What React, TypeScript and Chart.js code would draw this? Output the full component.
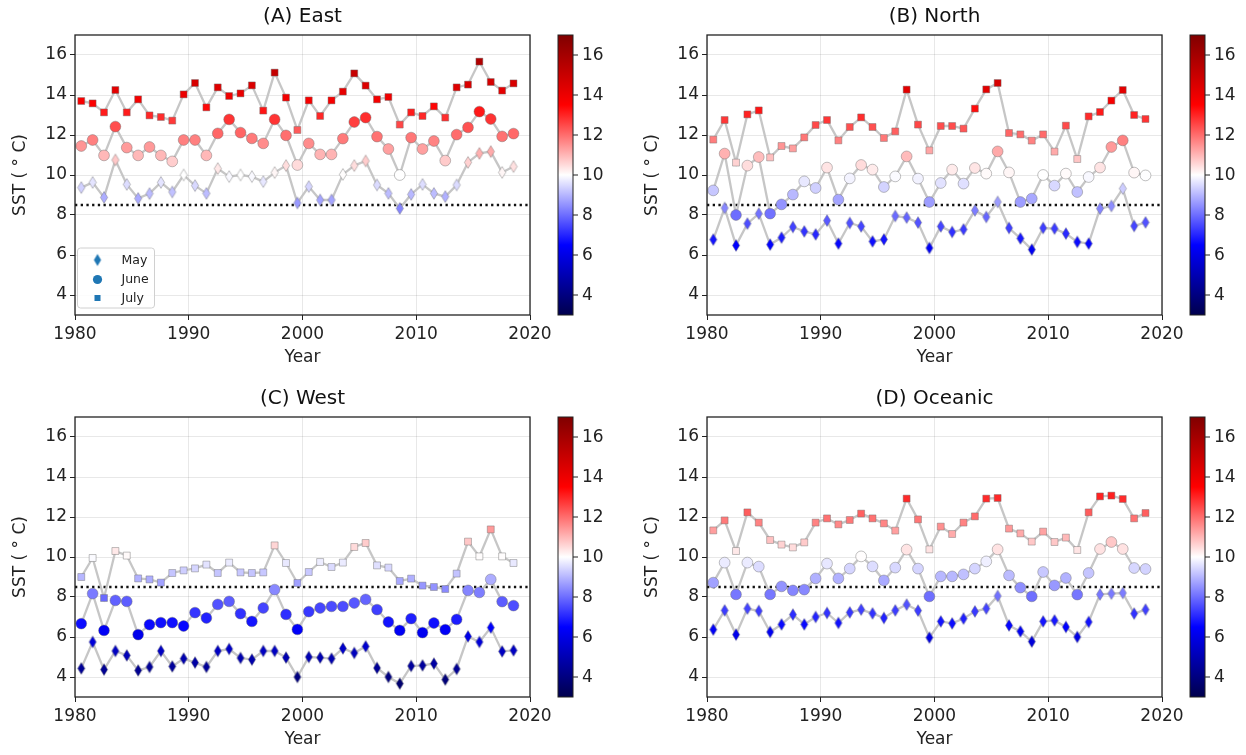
import React, { useEffect, useRef } from "react";
import { Chart, registerables } from "chart.js";

Chart.register(...registerables);

// ---------------- data ----------------
const YEARS = [
  1980, 1981, 1982, 1983, 1984, 1985, 1986, 1987, 1988, 1989,
  1990, 1991, 1992, 1993, 1994, 1995, 1996, 1997, 1998, 1999,
  2000, 2001, 2002, 2003, 2004, 2005, 2006, 2007, 2008, 2009,
  2010, 2011, 2012, 2013, 2014, 2015, 2016, 2017, 2018,
];
const X_OFFSET = 0.55; // points sit mid-season within each year

const X_TICKS = [1980, 1990, 2000, 2010, 2020];
const Y_TICKS = [4, 6, 8, 10, 12, 14, 16];
const THRESHOLD = 8.5;
const VMIN = 3;
const VMAX = 17;

const A_MAY = [9.37, 9.63, 8.88, 10.75, 9.53, 8.83, 9.07, 9.63, 9.15, 10.0, 9.47, 9.08, 10.32, 9.92, 10.0, 9.92, 9.67, 10.12, 10.47, 8.6, 9.42, 8.75, 8.75, 10.03, 10.47, 10.7, 9.5, 9.08, 8.33, 9.03, 9.53, 9.08, 8.92, 9.5, 10.63, 11.08, 11.17, 10.13, 10.42];
const A_JUNE = [11.45, 11.75, 10.98, 12.42, 11.37, 10.98, 11.4, 10.98, 10.68, 11.75, 11.75, 10.98, 12.08, 12.78, 12.12, 11.83, 11.58, 12.78, 11.98, 10.5, 11.58, 11.03, 11.03, 11.82, 12.65, 12.87, 11.92, 11.3, 10.0, 11.87, 11.3, 11.7, 10.72, 12.02, 12.38, 13.17, 12.8, 11.93, 12.07];
const A_JULY = [13.7, 13.58, 13.13, 14.25, 13.13, 13.78, 12.98, 12.9, 12.72, 14.03, 14.6, 13.38, 14.38, 13.95, 14.08, 14.48, 13.22, 15.12, 13.87, 12.25, 13.73, 12.95, 13.73, 14.17, 15.08, 14.47, 13.78, 13.9, 12.52, 13.13, 12.95, 13.43, 12.87, 14.38, 14.52, 15.67, 14.65, 14.22, 14.58];

const B_MAY = [6.77, 8.35, 6.48, 7.57, 8.07, 6.52, 6.87, 7.4, 7.18, 7.03, 7.72, 6.57, 7.6, 7.43, 6.68, 6.78, 7.95, 7.87, 7.62, 6.35, 7.43, 7.15, 7.28, 8.23, 7.9, 8.65, 7.35, 6.83, 6.27, 7.35, 7.32, 7.07, 6.65, 6.57, 8.32, 8.45, 9.32, 7.45, 7.63];
const B_JUNE = [9.23, 11.07, 8.0, 10.47, 10.9, 8.07, 8.53, 9.02, 9.68, 9.35, 10.37, 8.77, 9.83, 10.5, 10.27, 9.4, 9.93, 10.93, 9.82, 8.65, 9.6, 10.27, 9.57, 10.35, 10.07, 11.18, 10.13, 8.65, 8.82, 10.0, 9.47, 10.07, 9.15, 9.9, 10.37, 11.4, 11.73, 10.12, 9.98];
const B_JULY = [11.77, 12.75, 10.62, 13.03, 13.23, 10.88, 11.45, 11.33, 11.88, 12.5, 12.75, 11.73, 12.4, 12.88, 12.4, 11.85, 12.18, 14.27, 12.52, 11.23, 12.45, 12.45, 12.32, 13.32, 14.28, 14.6, 12.1, 12.03, 11.72, 12.03, 11.17, 12.47, 10.8, 12.93, 13.15, 13.72, 14.25, 13.0, 12.8];

const C_MAY = [4.43, 5.75, 4.37, 5.3, 5.08, 4.33, 4.5, 5.3, 4.53, 4.92, 4.72, 4.5, 5.3, 5.4, 4.95, 4.87, 5.3, 5.3, 4.97, 4.0, 5.0, 4.97, 4.92, 5.43, 5.2, 5.53, 4.45, 4.0, 3.67, 4.55, 4.58, 4.67, 3.87, 4.4, 6.03, 5.75, 6.47, 5.28, 5.33];
const C_JUNE = [6.67, 8.17, 6.33, 7.83, 7.78, 6.12, 6.62, 6.72, 6.72, 6.55, 7.22, 6.95, 7.63, 7.78, 7.17, 6.78, 7.45, 8.37, 7.13, 6.38, 7.27, 7.45, 7.53, 7.53, 7.7, 7.88, 7.37, 6.75, 6.33, 6.92, 6.22, 6.7, 6.37, 6.88, 8.33, 8.23, 8.88, 7.77, 7.57];
const C_JULY = [9.0, 9.95, 7.95, 10.3, 10.07, 8.93, 8.88, 8.72, 9.2, 9.33, 9.43, 9.62, 9.2, 9.72, 9.23, 9.2, 9.23, 10.58, 9.7, 8.7, 9.25, 9.75, 9.5, 9.72, 10.5, 10.7, 9.58, 9.47, 8.8, 8.92, 8.57, 8.5, 8.4, 9.17, 10.77, 10.03, 11.38, 10.03, 9.7];

const D_MAY = [6.37, 7.33, 6.12, 7.42, 7.3, 6.25, 6.63, 7.12, 6.63, 7.0, 7.2, 6.7, 7.23, 7.37, 7.18, 6.95, 7.33, 7.62, 7.32, 5.97, 6.78, 6.68, 6.92, 7.28, 7.42, 8.05, 6.58, 6.28, 5.77, 6.78, 6.83, 6.5, 6.0, 6.75, 8.13, 8.17, 8.2, 7.17, 7.37];
const D_JUNE = [8.72, 9.72, 8.13, 9.72, 9.52, 8.13, 8.53, 8.33, 8.37, 8.93, 9.67, 8.93, 9.42, 10.03, 9.53, 8.83, 9.47, 10.37, 9.42, 8.03, 9.03, 9.03, 9.13, 9.42, 9.78, 10.38, 9.08, 8.47, 8.03, 9.25, 8.58, 8.95, 8.12, 9.2, 10.4, 10.75, 10.4, 9.45, 9.4];
const D_JULY = [11.33, 11.83, 10.3, 12.23, 11.72, 10.85, 10.62, 10.48, 10.73, 11.72, 11.93, 11.63, 11.85, 12.17, 11.93, 11.68, 11.32, 12.92, 11.88, 10.38, 11.52, 11.15, 11.72, 12.03, 12.92, 12.95, 11.42, 11.18, 10.77, 11.27, 10.75, 10.97, 10.35, 12.23, 13.03, 13.07, 12.9, 11.93, 12.2];

const LEGEND_LABELS = ["May", "June", "July"];
const Y_TITLE = "SST ( \u00B0 C)";
const X_TITLE = "Year";

// ---------------- styles ----------------
const FONT = "'DejaVu Sans', 'Liberation Sans', sans-serif";
const TEXT = "#222222";
const LINE_COLOR = "rgba(195,195,195,0.95)";
const EDGE = "rgba(110,110,110,0.55)";
const LEGEND_BLUE = "#1f77b4";
const W = 614;
const H = 373;

const CMAP: number[][] = [
  [0, 0, 0, 77],
  [0.25, 0, 0, 255],
  [0.5, 255, 255, 255],
  [0.75, 255, 0, 0],
  [1, 128, 0, 0],
];

function seismic(v: number): string {
  const t = Math.min(1, Math.max(0, (v - VMIN) / (VMAX - VMIN)));
  for (let k = 0; k < CMAP.length - 1; k++) {
    const a = CMAP[k];
    const b = CMAP[k + 1];
    if (t <= b[0]) {
      const f = (t - a[0]) / (b[0] - a[0]);
      const r = Math.round(a[1] + (b[1] - a[1]) * f);
      const g = Math.round(a[2] + (b[2] - a[2]) * f);
      const bl = Math.round(a[3] + (b[3] - a[3]) * f);
      return `rgb(${r},${g},${bl})`;
    }
  }
  return "rgb(128,0,0)";
}

const diamondCache = new Map<string, HTMLCanvasElement>();
function diamond(color: string, edge = true): HTMLCanvasElement {
  const key = color + (edge ? "e" : "");
  const hit = diamondCache.get(key);
  if (hit) return hit;
  const c = document.createElement("canvas");
  c.width = 10;
  c.height = 15;
  const g = c.getContext("2d")!;
  g.beginPath();
  g.moveTo(5, 1.6);
  g.lineTo(8.6, 7.5);
  g.lineTo(5, 13.4);
  g.lineTo(1.4, 7.5);
  g.closePath();
  g.fillStyle = color;
  g.fill();
  if (edge) {
    g.strokeStyle = EDGE;
    g.lineWidth = 0.8;
    g.stroke();
  }
  diamondCache.set(key, c);
  return c;
}

type Panel = {
  title: string;
  may: number[];
  june: number[];
  july: number[];
  legend: boolean;
  left: number;
  top: number;
};

const PANELS: Panel[] = [
  { title: "(A) East", may: A_MAY, june: A_JUNE, july: A_JULY, legend: true, left: 0, top: 0 },
  { title: "(B) North", may: B_MAY, june: B_JUNE, july: B_JULY, legend: false, left: 632, top: 0 },
  { title: "(C) West", may: C_MAY, june: C_JUNE, july: C_JULY, legend: false, left: 0, top: 382 },
  { title: "(D) Oceanic", may: D_MAY, june: D_JUNE, july: D_JULY, legend: false, left: 632, top: 382 },
];

function pts(vals: number[]) {
  return YEARS.map((yr, i) => ({ x: yr + X_OFFSET, y: vals[i] }));
}

function lineDs(vals: number[]) {
  return {
    data: pts(vals),
    showLine: true,
    borderColor: LINE_COLOR,
    borderWidth: 2.3,
    pointRadius: 0,
    tension: 0,
    order: 10,
  };
}

function pointDs(vals: number[], kind: string, order: number) {
  const base: any = {
    data: pts(vals),
    showLine: false,
    borderColor: EDGE,
    borderWidth: 0.8,
    order,
    backgroundColor: (c: any) => (c.raw ? seismic(c.raw.y) : "#888"),
  };
  if (kind === "diamond") {
    base.pointStyle = (c: any) => (c.raw ? diamond(seismic(c.raw.y)) : "rectRot");
    base.pointRadius = 6;
  } else if (kind === "circle") {
    base.pointStyle = "circle";
    base.pointRadius = 5.4;
  } else {
    base.pointStyle = "rect";
    base.pointRadius = 4.9;
  }
  return base;
}

function makePlugin(panel: Panel) {
  return {
    id: "decor",
    beforeDatasetsDraw(chart: any) {
      const { ctx, chartArea: ca, scales } = chart;
      const y = scales.y.getPixelForValue(THRESHOLD);
      ctx.save();
      ctx.strokeStyle = "#111";
      ctx.lineWidth = 2.3;
      ctx.setLineDash([2.3, 3.4]);
      ctx.beginPath();
      ctx.moveTo(ca.left, y);
      ctx.lineTo(ca.right, y);
      ctx.stroke();
      ctx.restore();
    },
    afterDraw(chart: any) {
      const { ctx, chartArea: ca, scales } = chart;
      ctx.save();
      // spines
      ctx.strokeStyle = "#222";
      ctx.lineWidth = 1.3;
      ctx.strokeRect(ca.left, ca.top, ca.right - ca.left, ca.bottom - ca.top);

      // titles
      ctx.fillStyle = "#111";
      ctx.textAlign = "center";
      ctx.textBaseline = "middle";
      ctx.font = `20px ${FONT}`;
      const cx = (ca.left + ca.right) / 2;
      ctx.fillText(panel.title, cx, 17);
      ctx.font = `17px ${FONT}`;
      ctx.fillStyle = TEXT;
      ctx.fillText(X_TITLE, cx, 358);
      ctx.save();
      ctx.translate(21, (ca.top + ca.bottom) / 2);
      ctx.rotate(-Math.PI / 2);
      ctx.fillText(Y_TITLE, 0, 0);
      ctx.restore();

      // colorbar
      const x0 = ca.right + 28;
      const cw = 15;
      const grad = ctx.createLinearGradient(0, ca.bottom, 0, ca.top);
      CMAP.forEach((s) => grad.addColorStop(s[0], `rgb(${s[1]},${s[2]},${s[3]})`));
      ctx.fillStyle = grad;
      ctx.fillRect(x0, ca.top, cw, ca.bottom - ca.top);
      ctx.strokeStyle = "#222";
      ctx.lineWidth = 1;
      ctx.strokeRect(x0, ca.top, cw, ca.bottom - ca.top);
      ctx.textAlign = "left";
      ctx.textBaseline = "middle";
      ctx.font = `17px ${FONT}`;
      ctx.fillStyle = TEXT;
      Y_TICKS.forEach((v) => {
        const yy = scales.y.getPixelForValue(v);
        ctx.beginPath();
        ctx.moveTo(x0 + cw, yy);
        ctx.lineTo(x0 + cw + 5, yy);
        ctx.stroke();
        ctx.fillText(String(v), x0 + cw + 9, yy + 1);
      });

      // legend
      if (panel.legend) {
        const bx = ca.left + 2.5;
        const by = ca.bottom - 67;
        const bw = 77;
        const bh = 60;
        ctx.beginPath();
        ctx.roundRect(bx, by, bw, bh, 3);
        ctx.fillStyle = "rgba(255,255,255,0.85)";
        ctx.fill();
        ctx.strokeStyle = "#d0d0d0";
        ctx.lineWidth = 1;
        ctx.stroke();
        const mx = bx + 20;
        const tx = bx + 44;
        const rows = [by + 12, by + 31.5, by + 50];
        ctx.fillStyle = LEGEND_BLUE;
        const d = diamond(LEGEND_BLUE, false);
        ctx.drawImage(d, mx - 5, rows[0] - 7.5);
        ctx.beginPath();
        ctx.arc(mx, rows[1], 4.6, 0, Math.PI * 2);
        ctx.fill();
        ctx.fillRect(mx - 3, rows[2] - 3, 6, 6);
        ctx.fillStyle = TEXT;
        ctx.font = `12.5px ${FONT}`;
        LEGEND_LABELS.forEach((lab, i) => ctx.fillText(lab, tx, rows[i] + 0.5));
      }
      ctx.restore();
    },
  };
}

function PanelChart({ panel }: { panel: Panel }) {
  const ref = useRef<HTMLCanvasElement>(null);
  useEffect(() => {
    const canvas = ref.current;
    if (!canvas) return;
    const tickFont = { family: FONT, size: 17 };
    const chart = new Chart(canvas, {
      type: "scatter",
      data: {
        datasets: [
          lineDs(panel.may) as any,
          lineDs(panel.june) as any,
          lineDs(panel.july) as any,
          pointDs(panel.may, "diamond", 3),
          pointDs(panel.june, "circle", 2),
          pointDs(panel.july, "square", 1),
        ],
      },
      options: {
        animation: false,
        responsive: false,
        devicePixelRatio: 1,
        events: [],
        layout: { padding: { left: 0, top: 35, right: W - 530, bottom: 0 } },
        plugins: {
          legend: { display: false },
          title: { display: false },
          tooltip: { enabled: false },
        },
        scales: {
          x: {
            type: "linear",
            min: 1980,
            max: 2020,
            afterBuildTicks: (s: any) => {
              s.ticks = X_TICKS.map((v) => ({ value: v }));
            },
            afterFit: (s: any) => {
              s.height = 58;
            },
            ticks: {
              callback: (v: any) => String(v),
              font: tickFont,
              color: TEXT,
              padding: 4,
              maxRotation: 0,
              autoSkip: false,
            },
            grid: {
              color: "rgba(0,0,0,0.09)",
              tickColor: "#222",
              tickLength: 5,
              lineWidth: 1,
            },
            border: { display: false },
          },
          y: {
            type: "linear",
            min: VMIN,
            max: VMAX,
            afterBuildTicks: (s: any) => {
              s.ticks = Y_TICKS.map((v) => ({ value: v }));
            },
            afterFit: (s: any) => {
              s.width = 75;
            },
            ticks: {
              callback: (v: any) => String(v),
              font: tickFont,
              color: TEXT,
              padding: 3,
              autoSkip: false,
            },
            grid: {
              color: "rgba(0,0,0,0.09)",
              tickColor: "#222",
              tickLength: 5,
              lineWidth: 1,
            },
            border: { display: false },
          },
        },
      } as any,
      plugins: [makePlugin(panel)],
    });
    return () => chart.destroy();
  }, [panel]);
  return (
    <canvas
      ref={ref}
      width={W}
      height={H}
      style={{ position: "absolute", left: panel.left, top: panel.top, width: W, height: H }}
    />
  );
}

export default function App() {
  return (
    <div style={{ position: "absolute", left: 0, top: 0, width: 1246, height: 755, background: "#fff" }}>
      {PANELS.map((p) => (
        <PanelChart key={p.title} panel={p} />
      ))}
    </div>
  );
}
